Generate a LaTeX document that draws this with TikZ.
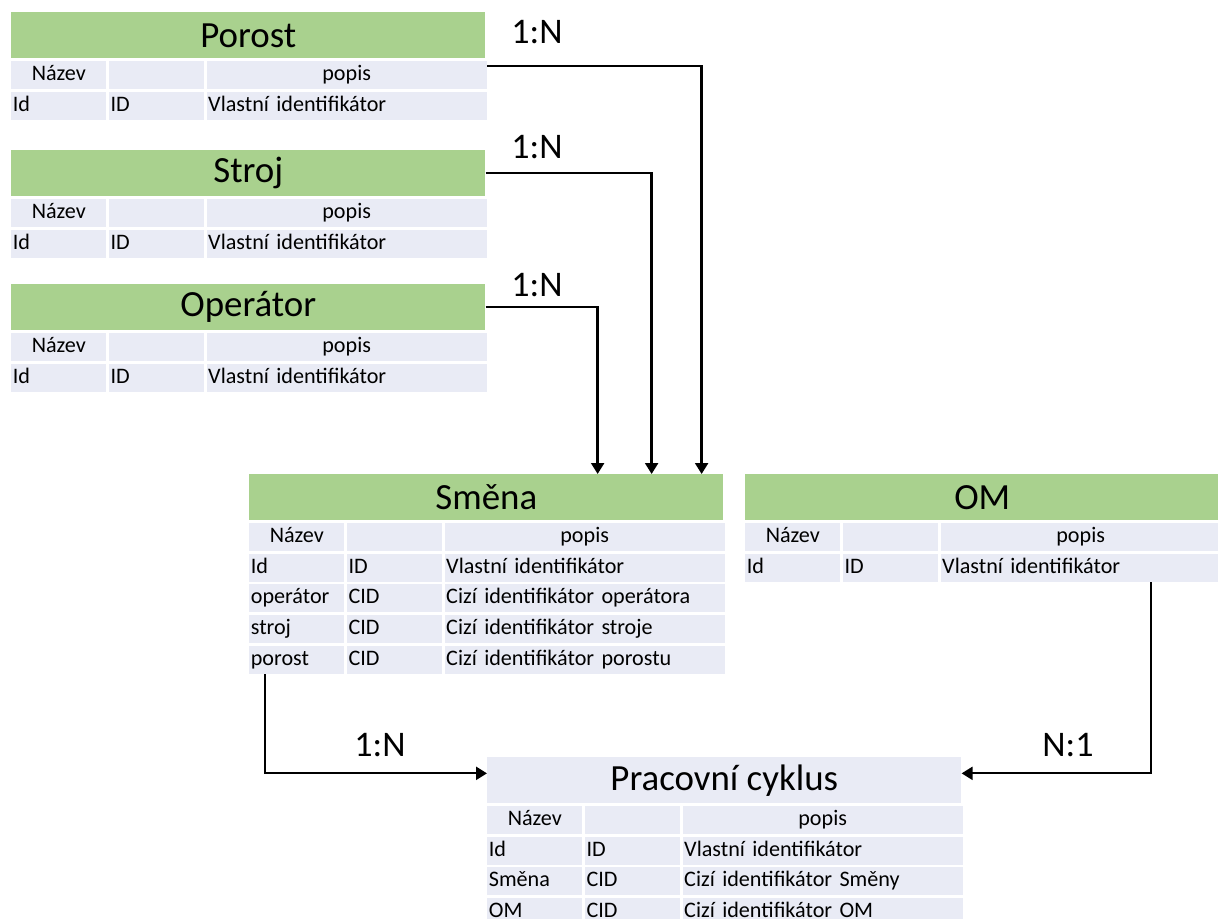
\documentclass[tikz,border=0pt]{standalone}
\usepackage{fontspec}
\setmainfont{Carlito}
\usepackage{tikz}
\usetikzlibrary{arrows.meta, positioning}

\definecolor{zelena}{HTML}{A9D18E}
\definecolor{radek}{HTML}{E9EBF5}

% one entity table: name, corner, title, title style, rows
\newcommand{\tabulka}[5]{%
  \node[#4] (#1) at (#2) {#3};
  \node[bunka, text width=1.84cm, align=center, below=0.04cm of #1.south west, anchor=north west] (#1-r0-a) {Název};
  \node[bunka, text width=1.84cm, right=0.04cm of #1-r0-a] (#1-r0-b) {};
  \node[bunka, text width=5.54cm, align=center, right=0.04cm of #1-r0-b] (#1-r0-c) {popis};
  \foreach \a/\b/\c [count=\i] in {#5} {
    \pgfmathtruncatemacro\j{\i-1}
    \node[bunka, text width=1.84cm, below=0.04cm of #1-r\j-a] (#1-r\i-a) {\a};
    \node[bunka, text width=1.84cm, right=0.04cm of #1-r\i-a] (#1-r\i-b) {\b};
    \node[bunka, text width=5.54cm, right=0.04cm of #1-r\i-b] (#1-r\i-c) {\c};
  }%
}

\begin{document}
\begin{tikzpicture}[
    x=0.02cm, y=-0.02cm,
    hlavicka/.style={rectangle, fill=zelena, anchor=north west, minimum width=9.48cm, minimum height=0.92cm, inner sep=0pt, font=\fontsize{21}{25}\selectfont},
    hlavicka2/.style={hlavicka, fill=radek},
    bunka/.style={rectangle, fill=radek, inner xsep=0.03cm, inner ysep=0pt, minimum height=0.56cm, text height=9pt, text depth=3pt, align=left, font=\fontsize{12.6}{15}\selectfont},
    spoj/.style={-{Triangle[length=0.22cm, width=0.26cm]}, line width=1.3pt},
    kard/.style={font=\fontsize{20.5}{25}\selectfont}
]
\clip (0,0) rectangle (1218,919);

\tabulka{porost}{11,12}{Porost}{hlavicka}{Id/ID/Vlastní identifikátor}
\tabulka{stroj}{11,150}{Stroj}{hlavicka}{Id/ID/Vlastní identifikátor}
\tabulka{operator}{11,284}{Operátor}{hlavicka}{Id/ID/Vlastní identifikátor}
\tabulka{smena}{249,474}{Směna}{hlavicka}{Id/ID/Vlastní identifikátor, operátor/CID/Cizí identifikátor operátora, stroj/CID/Cizí identifikátor stroje, porost/CID/Cizí identifikátor porostu}
\tabulka{om}{745,474}{OM}{hlavicka}{Id/ID/Vlastní identifikátor}
\tabulka{pracovni}{487,757}{Pracovní cyklus}{hlavicka2}{Id/ID/Vlastní identifikátor, Směna/CID/Cizí identifikátor Směny, OM/CID/Cizí identifikátor OM}

\draw[spoj] ([yshift=-0.1cm]porost-r0-c.north east) -| ([xshift=-0.44cm]smena.north east);
\draw[spoj] (stroj.east) -| ([xshift=-1.44cm]smena.north east);
\draw[spoj] (operator.east) -| ([xshift=-2.52cm]smena.north east);
\draw[spoj] ([xshift=0.32cm]smena-r4-a.south west) |- ([yshift=0.14cm]pracovni.west);
\draw[spoj] ([xshift=-1.4cm]om-r1-c.south east) |- ([yshift=0.14cm]pracovni.east);

\node[kard] (k1) at (537,32) {1:N};
\node[kard] (k2) at (537,147) {1:N};
\node[kard] (k3) at (537,285) {1:N};
\node[kard] (k4) at (380,745) {1:N};
\node[kard] (k5) at (1068,745) {N:1};
\end{tikzpicture}
\end{document}
